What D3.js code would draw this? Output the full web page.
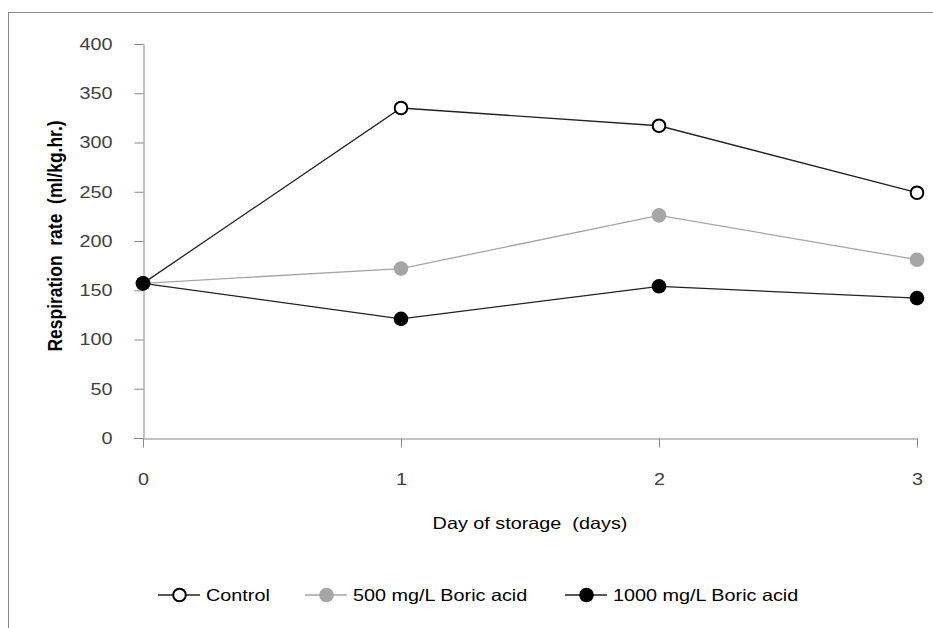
<!DOCTYPE html>
<html><head><meta charset="utf-8">
<script src="https://cdn.jsdelivr.net/npm/d3@7"></script>
<style>body{margin:0;background:#fff;}svg{display:block;font-family:"Liberation Sans",Arial,sans-serif;}</style>
</head><body>
<svg id="c" width="933" height="628"></svg>
<script>
const days = [0, 1, 2, 3];
const control = [157, 335, 317, 249];
const boric500 = [157, 172, 226, 181];
const boric1000 = [157, 121, 154, 142];
const yTicks = [0, 50, 100, 150, 200, 250, 300, 350, 400];
const seriesNames = ["Control", "500 mg/L Boric acid", "1000 mg/L Boric acid"];

const series = [
  {name: seriesNames[0], values: control, line: "#222", fill: "#fff", stroke: "#000", sw: 2},
  {name: seriesNames[1], values: boric500, line: "#a6a6a6", fill: "#a6a6a6", stroke: "#a6a6a6", sw: 0},
  {name: seriesNames[2], values: boric1000, line: "#222", fill: "#000", stroke: "#000", sw: 0}
];
const STRETCH = 1.2;
function stretch(sel) {
  sel.each(function() {
    const w = this.getComputedTextLength();
    d3.select(this).attr("textLength", w * STRETCH).attr("lengthAdjust", "spacingAndGlyphs");
  });
}

const svg = d3.select("#c");
svg.append("rect").attr("x", 8.5).attr("y", 12.5).attr("width", 1000).attr("height", 1000)
  .attr("fill", "none").attr("stroke", "#8a8a8a").attr("stroke-width", 1);

const x = d3.scaleLinear().domain([0, 3]).range([143, 917]);
const y = d3.scaleLinear().domain([0, 400]).range([438, 44]);

const yAxis = svg.append("g").attr("transform", "translate(143.5,0)")
  .call(d3.axisLeft(y).tickValues(yTicks).tickFormat(d3.format("d")).tickSize(9).tickPadding(22).tickSizeOuter(0));
const xAxis = svg.append("g").attr("transform", "translate(0,438.5)")
  .call(d3.axisBottom(x).tickValues(days).tickFormat(d3.format("d")).tickSize(9).tickPadding(26).tickSizeOuter(0));
[yAxis, xAxis].forEach(g => {
  g.select(".domain").attr("stroke", "#888");
  g.selectAll(".tick line").attr("stroke", "#888");
  g.selectAll("text").attr("fill", "#404040").style("font-size", "16.5px")
    .style("font-family", '"Liberation Sans",Arial,sans-serif').call(stretch);
});
svg.append("line").attr("x1", 134).attr("x2", 143).attr("y1", 438.5).attr("y2", 438.5).attr("stroke", "#888");

svg.append("text").attr("transform", `translate(62,236) scale(${STRETCH},1) rotate(-90)`).attr("text-anchor", "middle")
  .style("font-size", "17.5px").style("font-weight", "bold").attr("fill", "#000")
  .attr("xml:space", "preserve").text("Respiration  rate  (ml/kg.hr.)");
svg.append("text").attr("x", 530).attr("y", 529).attr("text-anchor", "middle")
  .style("font-size", "16.5px").attr("fill", "#000")
  .attr("xml:space", "preserve").text("Day of storage  (days)").call(stretch);

const line = d3.line().x((d, i) => x(days[i])).y(d => y(d));
series.forEach(s => {
  svg.append("path").datum(s.values).attr("d", line).attr("fill", "none")
    .attr("stroke", s.line).attr("stroke-width", 1.3);
});
series.forEach(s => {
  svg.selectAll(null).data(s.values).enter().append("circle")
    .attr("cx", (d, i) => x(days[i])).attr("cy", d => y(d))
    .attr("r", s.sw ? 6.3 : 7.3).attr("fill", s.fill)
    .attr("stroke", s.sw ? s.stroke : "none").attr("stroke-width", s.sw);
});

// legend
const legX = [158, 305, 565];
series.forEach((s, i) => {
  const g = svg.append("g").attr("transform", `translate(${legX[i]},595)`);
  g.append("line").attr("x1", 0).attr("x2", 42).attr("y1", 0).attr("y2", 0)
    .attr("stroke", s.line).attr("stroke-width", 1.3);
  g.append("circle").attr("cx", 21.5).attr("cy", 0).attr("r", s.sw ? 6.3 : 7.3)
    .attr("fill", s.fill).attr("stroke", s.sw ? s.stroke : "none").attr("stroke-width", s.sw);
  g.append("text").attr("x", 48).attr("y", 6).style("font-size", "16.5px").attr("fill", "#000")
    .text(s.name).call(stretch);
});
</script>
</body></html>
